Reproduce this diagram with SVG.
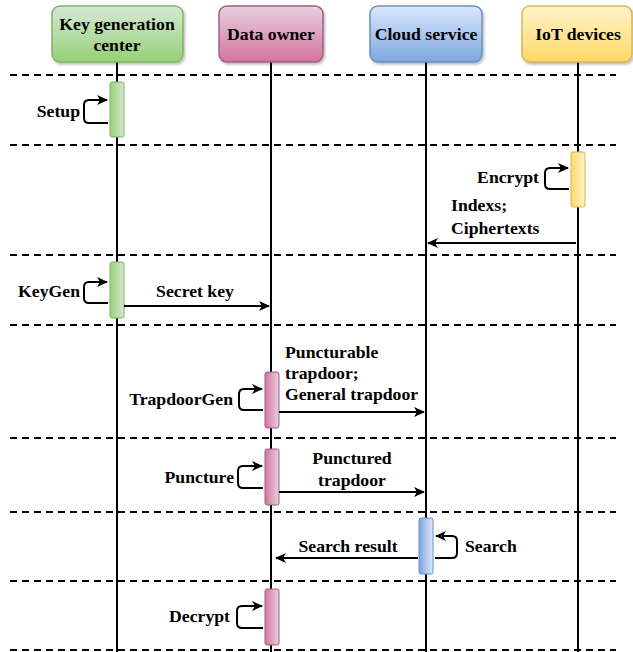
<svg xmlns="http://www.w3.org/2000/svg" width="633" height="652" viewBox="0 0 633 652">
<defs>
<linearGradient id="gG" x1="0" y1="0" x2="0" y2="1"><stop offset="0" stop-color="#d5e8d4"/><stop offset="1" stop-color="#97d077"/></linearGradient>
<linearGradient id="gP" x1="0" y1="0" x2="0" y2="1"><stop offset="0" stop-color="#e6d0de"/><stop offset="1" stop-color="#d5739d"/></linearGradient>
<linearGradient id="gB" x1="0" y1="0" x2="0" y2="1"><stop offset="0" stop-color="#dae8fc"/><stop offset="1" stop-color="#7ea6e0"/></linearGradient>
<linearGradient id="gY" x1="0" y1="0" x2="0" y2="1"><stop offset="0" stop-color="#fff2cc"/><stop offset="1" stop-color="#ffd966"/></linearGradient>
<linearGradient id="aG" x1="0" y1="0" x2="1" y2="0"><stop offset="0" stop-color="#97d077"/><stop offset="1" stop-color="#d5e8d4"/></linearGradient>
<linearGradient id="aP" x1="0" y1="0" x2="1" y2="0"><stop offset="0" stop-color="#d5739d"/><stop offset="1" stop-color="#e6d0de"/></linearGradient>
<linearGradient id="aB" x1="0" y1="0" x2="1" y2="0"><stop offset="0" stop-color="#7ea6e0"/><stop offset="1" stop-color="#dae8fc"/></linearGradient>
<linearGradient id="aY" x1="0" y1="0" x2="1" y2="0"><stop offset="0" stop-color="#ffd966"/><stop offset="1" stop-color="#fff2cc"/></linearGradient>
<marker id="arr" markerWidth="12" markerHeight="10" refX="10" refY="5" orient="auto" markerUnits="userSpaceOnUse"><path d="M0,0 L11,5 L0,10 L3,5 Z" fill="#000"/></marker>
<filter id="sh" x="-10%" y="-10%" width="130%" height="140%"><feDropShadow dx="1.5" dy="2" stdDeviation="1" flood-color="#000" flood-opacity="0.25"/></filter>
</defs>
<style>
text{font-family:"Liberation Serif","Times New Roman",serif;font-weight:bold;font-size:17.7px;fill:#000}
.h{text-anchor:middle}
.r{text-anchor:end}
.life{stroke:#000;stroke-width:2;fill:none}
.dash{stroke:#000;stroke-width:2;stroke-dasharray:7 5;fill:none}
.msg{stroke:#000;stroke-width:2;fill:none;marker-end:url(#arr)}
.self{stroke:#000;stroke-width:2;fill:none;marker-end:url(#arr)}
</style>
<g id="separators">
<line class="dash" x1="10" y1="75" x2="616" y2="75"/>
<line class="dash" x1="10" y1="145" x2="616" y2="145"/>
<line class="dash" x1="10" y1="255" x2="616" y2="255"/>
<line class="dash" x1="10" y1="325" x2="616" y2="325"/>
<line class="dash" x1="10" y1="438" x2="616" y2="438"/>
<line class="dash" x1="10" y1="512" x2="616" y2="512"/>
<line class="dash" x1="10" y1="581" x2="616" y2="581"/>
<line class="dash" x1="10" y1="650" x2="616" y2="650"/>
</g>
<g id="lifelines">
<line class="life" x1="117" y1="62" x2="117" y2="652"/>
<line class="life" x1="271" y1="62" x2="271" y2="652"/>
<line class="life" x1="426" y1="62" x2="426" y2="652"/>
<line class="life" x1="578" y1="62" x2="578" y2="652"/>
</g>
<g id="kgc">
<rect x="52" y="6" width="131" height="56" rx="8" fill="url(#gG)" stroke="#82b366" stroke-width="1.5" filter="url(#sh)"/>
<text class="h" x="117" y="30">Key generation</text>
<text class="h" x="117" y="51">center</text>
</g>
<g id="data-owner">
<rect x="219" y="6" width="104" height="56" rx="8" fill="url(#gP)" stroke="#996185" stroke-width="1.5" filter="url(#sh)"/>
<text class="h" x="271" y="40">Data owner</text>
</g>
<g id="cloud-service">
<rect x="370" y="6" width="112" height="56" rx="8" fill="url(#gB)" stroke="#6c8ebf" stroke-width="1.5" filter="url(#sh)"/>
<text class="h" x="426" y="40">Cloud service</text>
</g>
<g id="iot-devices">
<rect x="522" y="6" width="110" height="56" rx="8" fill="url(#gY)" stroke="#d6b656" stroke-width="1.5" filter="url(#sh)"/>
<text class="h" x="578" y="40">IoT devices</text>
</g>
<g id="act-setup"><rect x="110" y="82" width="14" height="55" rx="2" fill="url(#aG)" stroke="#82b366"/></g>
<g id="act-encrypt"><rect x="571" y="152" width="14" height="55" rx="2" fill="url(#aY)" stroke="#d6b656"/></g>
<g id="act-keygen"><rect x="110" y="262" width="14" height="56" rx="2" fill="url(#aG)" stroke="#82b366"/></g>
<g id="act-trapdoorgen"><rect x="265" y="372" width="14" height="56" rx="2" fill="url(#aP)" stroke="#996185"/></g>
<g id="act-puncture"><rect x="265" y="449" width="14" height="56" rx="2" fill="url(#aP)" stroke="#996185"/></g>
<g id="act-search"><rect x="419" y="518" width="14" height="56" rx="2" fill="url(#aB)" stroke="#6c8ebf"/></g>
<g id="act-decrypt"><rect x="265" y="589" width="14" height="56" rx="2" fill="url(#aP)" stroke="#996185"/></g>
<g id="connectors">
<path class="self" d="M108 123 L89 123 Q84 123 84 118 L84 105 Q84 100 89 100 L107 100"/>
<path class="self" d="M569 189 L550 189 Q545 189 545 184 L545 173 Q545 168 550 168 L568 168"/>
<line class="msg" x1="576" y1="243" x2="428" y2="243"/>
<path class="self" d="M108 303 L89 303 Q84 303 84 298 L84 287 Q84 282 89 282 L107 282"/>
<line class="msg" x1="124" y1="306" x2="269" y2="306"/>
<path class="self" d="M263 410 L244 410 Q239 410 239 405 L239 394 Q239 389 244 389 L262 389"/>
<line class="msg" x1="279" y1="412" x2="424" y2="412"/>
<path class="self" d="M263 488 L243 488 Q238 488 238 483 L238 471 Q238 466 243 466 L262 466"/>
<line class="msg" x1="279" y1="492" x2="424" y2="492"/>
<path class="self" d="M435 558 L452 558 Q457 558 457 553 L457 541 Q457 536 452 536 L436 536"/>
<line class="msg" x1="418" y1="558" x2="276" y2="558"/>
<path class="self" d="M263 628 L242 628 Q237 628 237 623 L237 611 Q237 606 242 606 L262 606"/>
</g>
<g id="labels">
<text class="r" x="80" y="117">Setup</text>
<text class="r" x="539" y="183">Encrypt</text>
<text x="451" y="211">Indexs;</text>
<text x="451" y="234">Ciphertexts</text>
<text class="r" x="80" y="297">KeyGen</text>
<text class="h" x="195" y="297">Secret key</text>
<text x="285" y="358">Puncturable</text>
<text x="285" y="379">trapdoor;</text>
<text x="285" y="400">General trapdoor</text>
<text class="r" x="233" y="405">TrapdoorGen</text>
<text class="r" x="234" y="483">Puncture</text>
<text class="h" x="352" y="464">Punctured</text>
<text class="h" x="352" y="486">trapdoor</text>
<text x="465" y="552">Search</text>
<text class="h" x="348" y="552">Search result</text>
<text class="r" x="230" y="622">Decrypt</text>
</g>
</svg>
